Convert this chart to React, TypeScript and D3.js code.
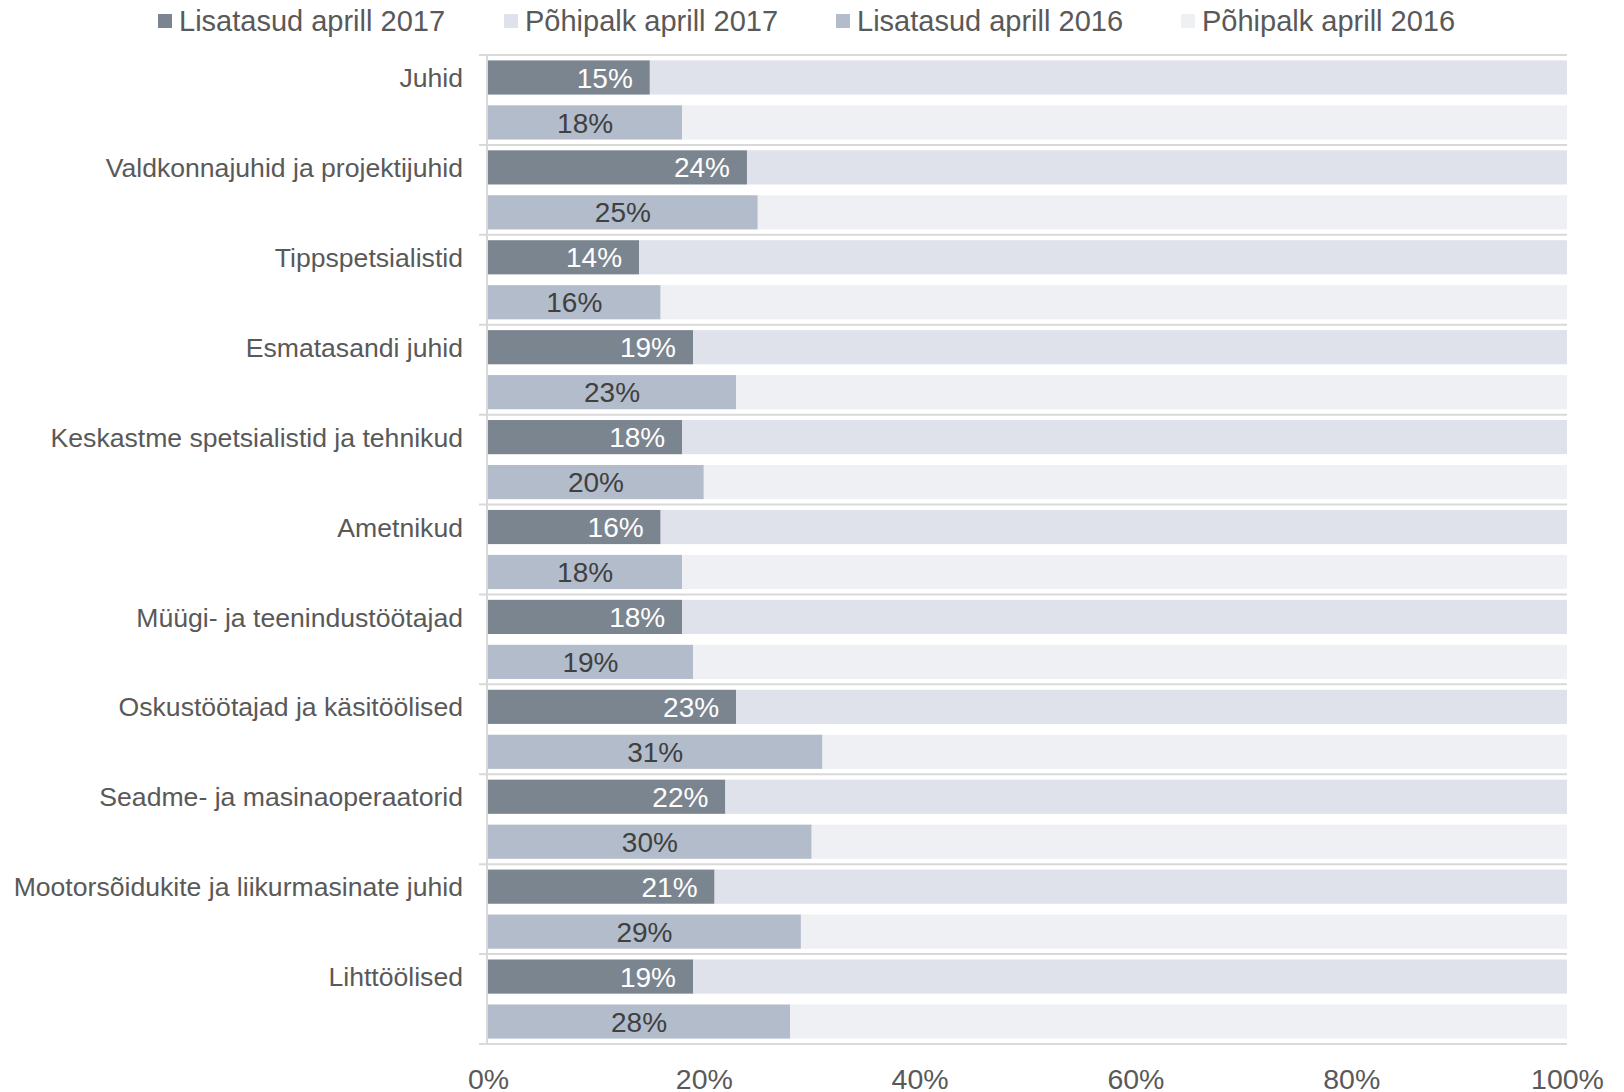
import { useEffect, useRef } from "react";
import * as d3 from "d3";

const categories = [
  "Juhid",
  "Valdkonnajuhid ja projektijuhid",
  "Tippspetsialistid",
  "Esmatasandi juhid",
  "Keskastme spetsialistid ja tehnikud",
  "Ametnikud",
  "Müügi- ja teenindustöötajad",
  "Oskustöötajad ja käsitöölised",
  "Seadme- ja masinaoperaatorid",
  "Mootorsõidukite ja liikurmasinate juhid",
  "Lihttöölised",
];

// share of extra pay (lisatasud), %
const extra2017 = [15, 24, 14, 19, 18, 16, 18, 23, 22, 21, 19];
const extra2016 = [18, 25, 16, 23, 20, 18, 19, 31, 30, 29, 28];
// base pay (põhipalk) is the rest up to 100%
const base2017 = extra2017.map((v) => 100 - v);
const base2016 = extra2016.map((v) => 100 - v);

const legendLabels = [
  "Lisatasud aprill 2017",
  "Põhipalk aprill 2017",
  "Lisatasud aprill 2016",
  "Põhipalk aprill 2016",
];
const tickValues = [0, 20, 40, 60, 80, 100];

const colors = ["#7b858f", "#dfe2ea", "#b2bccb", "#eff0f4"];
const FONT = "'Liberation Sans', Arial, sans-serif";

function App() {
  const svgRef = useRef(null);
  const svgWidth = 1624;
  const svgHeight = 1092;

  useEffect(() => {
    const svg = d3.select(svgRef.current);
    svg.selectAll("*").remove();

    const left = 487, right = 1567, top = 55, bottom = 1044;

    const x = d3.scaleLinear().domain([0, 100]).range([left + 1, right]);
    const y = d3.scaleBand().domain(categories).range([top, bottom]);
    const sub = d3.scaleBand().domain(["2017", "2016"]).range([0, y.bandwidth()]).paddingInner(0.24).paddingOuter(0.12);

    // separators between the categories
    const seps = d3.range(categories.length + 1).map((i) => top + i * y.step());
    svg.append("g").selectAll("line").data(seps).join("line")
      .attr("x1", left - 8).attr("x2", right)
      .attr("y1", (d) => d).attr("y2", (d) => d)
      .attr("stroke", "#d9d9d9").attr("stroke-width", 2);

    const rows = categories.map((c, i) => ({
      cat: c,
      e17: extra2017[i], b17: base2017[i],
      e16: extra2016[i], b16: base2016[i],
    }));

    const g = svg.append("g");
    const row = g.selectAll("g.row").data(rows).join("g")
      .attr("class", "row")
      .attr("transform", (d) => `translate(0,${y(d.cat)})`);

    const bh = sub.bandwidth();
    // 2017 bars
    row.append("rect").attr("x", x(0)).attr("y", sub("2017"))
      .attr("width", (d) => x(d.e17) - x(0)).attr("height", bh).attr("fill", colors[0]);
    row.append("rect").attr("x", (d) => x(d.e17)).attr("y", sub("2017"))
      .attr("width", (d) => x(d.e17 + d.b17) - x(d.e17)).attr("height", bh).attr("fill", colors[1]);
    // 2016 bars
    row.append("rect").attr("x", x(0)).attr("y", sub("2016"))
      .attr("width", (d) => x(d.e16) - x(0)).attr("height", bh).attr("fill", colors[2]);
    row.append("rect").attr("x", (d) => x(d.e16)).attr("y", sub("2016"))
      .attr("width", (d) => x(d.e16 + d.b16) - x(d.e16)).attr("height", bh).attr("fill", colors[3]);

    // bar labels
    row.append("text")
      .attr("x", (d) => x(d.e17) - 17).attr("y", sub("2017") + bh / 2).attr("dy", "0.36em")
      .attr("text-anchor", "end").attr("fill", "#ffffff")
      .style("font-family", FONT).style("font-size", "28px")
      .text((d) => d.e17 + "%");
    row.append("text")
      .attr("x", (d) => (x(0) + x(d.e16)) / 2).attr("y", sub("2016") + bh / 2).attr("dy", "0.36em")
      .attr("text-anchor", "middle").attr("fill", "#404040")
      .style("font-family", FONT).style("font-size", "28px")
      .text((d) => d.e16 + "%");

    // category labels
    row.append("text")
      .attr("x", left - 24).attr("y", sub("2017") + bh / 2).attr("dy", "0.36em")
      .attr("text-anchor", "end").attr("fill", "#595959")
      .style("font-family", FONT).style("font-size", "26.6px")
      .text((d) => d.cat);

    // y axis line
    svg.append("line").attr("x1", left).attr("x2", left).attr("y1", top).attr("y2", bottom)
      .attr("stroke", "#d9d9d9").attr("stroke-width", 2);

    // x axis tick labels
    const xAxis = d3.axisBottom(x).tickValues(tickValues).tickFormat((d) => d + "%").tickSize(0).tickPadding(0);
    const ax = svg.append("g").attr("transform", `translate(0,${bottom})`).call(xAxis);
    ax.select(".domain").remove();
    ax.selectAll("text")
      .attr("y", 45).attr("dy", "0")
      .attr("fill", "#595959")
      .style("font-family", FONT).style("font-size", "28.5px");

    // legend
    const legendX = [158, 504, 836, 1181];
    const lg = svg.append("g").selectAll("g").data(legendLabels).join("g")
      .attr("transform", (d, i) => `translate(${legendX[i]},21)`);
    lg.append("rect").attr("x", 0).attr("y", -7).attr("width", 14).attr("height", 14)
      .attr("fill", (d, i) => colors[i]);
    lg.append("text").attr("x", 21).attr("y", 0).attr("dy", "0.36em")
      .attr("fill", "#595959")
      .style("font-family", FONT).style("font-size", "29px")
      .text((d) => d);
  }, []);

  return (
    <svg
      ref={svgRef}
      width={svgWidth}
      height={svgHeight}
      style={{ position: "absolute", left: 0, top: 0, background: "#ffffff" }}
    ></svg>
  );
}

export default App;
